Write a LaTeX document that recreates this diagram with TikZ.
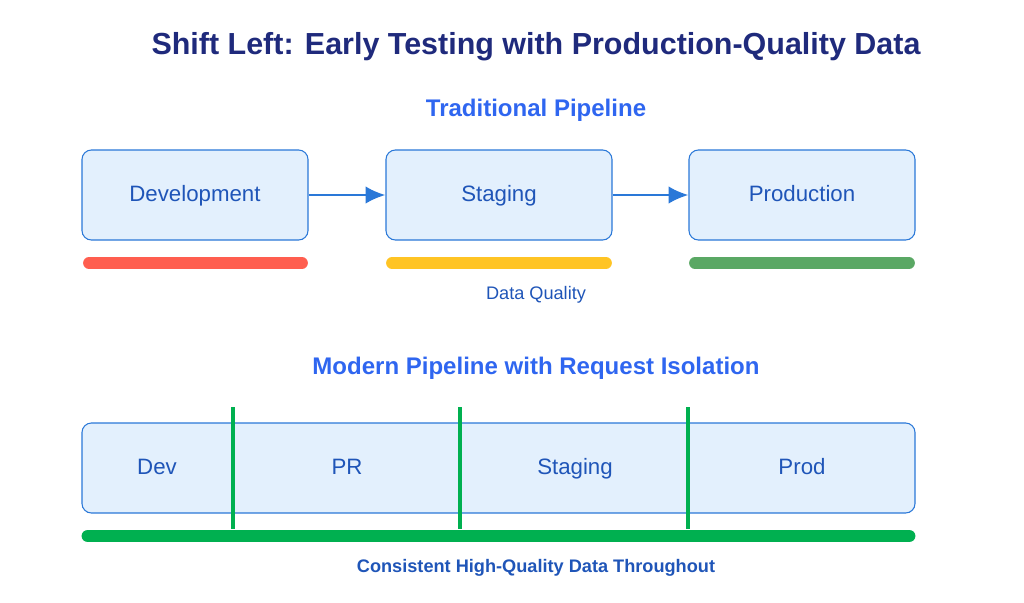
\documentclass[tikz,border=0pt]{standalone}
\usepackage{fontspec}
\setmainfont{Liberation Sans}
\usetikzlibrary{positioning,arrows.meta}
\definecolor{navy}{HTML}{1F2A7C}
\definecolor{headblue}{HTML}{2F66F0}
\definecolor{boxfill}{HTML}{E3F0FD}
\definecolor{boxline}{HTML}{2A78D8}
\definecolor{txtblue}{HTML}{1F55B8}
\definecolor{qred}{HTML}{FF5E4F}
\definecolor{qyellow}{HTML}{FFC424}
\definecolor{qgreen}{HTML}{5AA864}
\definecolor{gline}{HTML}{00B050}
\tikzset{
  stagebox/.style={draw=boxline,fill=boxfill,line width=0.9pt,rounded corners=8pt,
    minimum width=226*0.03cm,minimum height=90*0.03cm},
  stagetext/.style={font=\fontsize{19}{22}\selectfont,text=txtblue,text height=14pt,text depth=3pt},
  heading/.style={font=\bfseries\fontsize{20.5}{24}\selectfont,text=headblue},
  flow/.style={-{Latex[length=17pt,width=15pt]},draw=boxline,line width=2.2pt},
}
\begin{document}
\begin{tikzpicture}[x=0.03cm,y=-0.03cm]
\useasboundingbox (0,0) rectangle (1024,602);
\node[font=\bfseries\fontsize{26}{30}\selectfont,text=navy] (title) at (536,47) {Shift Left: Early Testing with Production-Quality Data};
\node[heading] (trad) at (536,110) {Traditional Pipeline};
% traditional stages
\node[stagebox,stagetext] (dev) at (195,195) {Development};
\node[stagebox,stagetext] (stg) at (499,195) {Staging};
\node[stagebox,stagetext] (prd) at (802,195) {Production};
\draw[flow] (dev) -- (stg);
\draw[flow] (stg) -- (prd);
% quality bars
\draw[line width=10pt,line cap=round,qred] (89,263) -- (302,263);
\draw[line width=10pt,line cap=round,qyellow] (392,263) -- (606,263);
\draw[line width=10pt,line cap=round,qgreen] (695,263) -- (909,263);
\node[font=\fontsize{15.5}{18}\selectfont,text=txtblue] (dq) at (536,295) {Data Quality};
% modern pipeline
\node[heading] (modern) at (536,368) {Modern Pipeline with Request Isolation};
\node[stagebox,minimum width=833*0.03cm] (band) at (498.5,468) {};
\node[stagetext] (mdev) at (157,468) {Dev};
\node[stagetext] (mpr) at (347,468) {PR};
\node[stagetext] (mstg) at (575,468) {Staging};
\node[stagetext] (mprd) at (802,468) {Prod};
\foreach \x in {233,460,688}
  \draw[gline,line width=3pt] (\x,407) -- (\x,529);
\draw[line width=11pt,line cap=round,gline] (88,536) -- (909,536);
\node[font=\bfseries\fontsize{15.5}{18}\selectfont,text=txtblue] (note) at (536,568) {Consistent High-Quality Data Throughout};
\end{tikzpicture}
\end{document}
